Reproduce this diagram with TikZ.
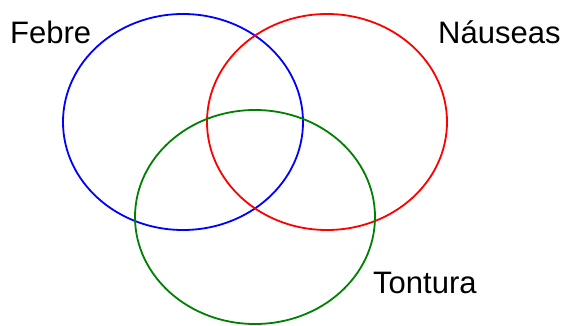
\documentclass[tikz,border=0pt]{standalone}
\usepackage{fontspec}
\setmainfont{Liberation Sans}
\usepackage{tikz}
\usetikzlibrary{positioning}

\begin{document}
\begin{tikzpicture}[x=1pt,y=-1pt,
  set/.style={line width=1.8pt},
  lbl/.style={anchor=base west,inner sep=0pt,font=\fontsize{31}{36}\selectfont}]
  \useasboundingbox (0,0) rectangle (566,325);
  % the three sets
  \coordinate (cF) at (183,122);
  \coordinate (cN) at (327,122);
  \coordinate (cT) at (255,217);
  \draw[set,blue] (cF) ellipse [x radius=120,y radius=108];
  \draw[set,red] (cN) ellipse [x radius=120,y radius=108];
  \draw[set,green!50!black] (cT) ellipse [x radius=120,y radius=107];
  % labels
  \node[lbl] (febre) at (10,43) {Febre};
  \node[lbl] (nauseas) at (438,43) {Náuseas};
  \node[lbl] (tontura) at (373,293) {Tontura};
\end{tikzpicture}
\end{document}
